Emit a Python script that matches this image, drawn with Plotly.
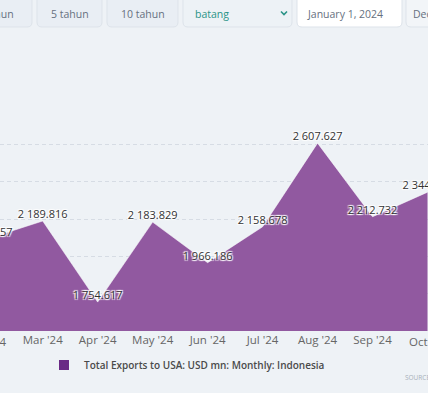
import plotly.graph_objects as go

# ---- data ----
months = ["Feb '24", "Mar '24", "Apr '24", "May '24", "Jun '24",
          "Jul '24", "Aug '24", "Sep '24", "Oct '24"]
values = [2094.557, 2189.816, 1754.617, 2183.829, 1966.186,
          2158.678, 2607.627, 2212.732, 2344.318]
series_name = "Total Exports to USA: USD mn: Monthly: Indonesia"
y_ticks = [1600, 1800, 2000, 2200, 2400, 2600, 2800]

# ---- layout geometry ----
W, H = 428, 393
ML, MR, MT, MB = 0, 0, 107, 62
PW, PH = W - ML - MR, H - MT - MB
BG = "#eef2f6"
FILL = "#9159a0"
SERIES = "#6a2a85"


def px(x):
    return (x - ML) / PW


def py(y):
    return (H - MB - y) / PH


x_idx = list(range(len(months)))
x_range = [0.223, 8.009]
labels = [f"{v:,.3f}".replace(",", " ") for v in values]

fig = go.Figure()
fig.add_trace(go.Scatter(
    x=x_idx, y=values, mode="lines+text", fill="tozeroy",
    fillcolor=FILL, line=dict(color="rgba(255,255,255,0.55)", width=1),
    text=labels, textposition="top center",
    textfont=dict(family="Open Sans", size=11, color="#333333",
                  shadow="1px 1px 1px #fff, -1px -1px 1px #fff, 1px -1px 1px #fff, -1px 1px 1px #fff"),
    cliponaxis=True, showlegend=False, hoverinfo="skip"))
fig.add_trace(go.Scatter(
    x=[None], y=[None], mode="markers", name=series_name,
    marker=dict(symbol="square", size=10, color=SERIES)))


def rrect(x0, y0, x1, y1, r):
    X0, X1 = px(x0), px(x1)
    Y0, Y1 = py(y0), py(y1)
    rx, ry = r / PW, r / PH
    return (f"M{X0+rx},{Y0} L{X1-rx},{Y0} Q{X1},{Y0} {X1},{Y0-ry} "
            f"L{X1},{Y1+ry} Q{X1},{Y1} {X1-rx},{Y1} L{X0+rx},{Y1} "
            f"Q{X0},{Y1} {X0},{Y1+ry} L{X0},{Y0-ry} Q{X0},{Y0} {X0+rx},{Y0} Z")


shapes = []
annotations = []
ui_font = dict(family="Open Sans", size=10.5, color="#667080")
boxes = [(-20, 32, "#e9eef4"), (37, 102, "#e9eef4"), (107, 178, "#e9eef4"),
         (183, 292, "#edf2f6"), (297, 402, "#ffffff"), (406, 470, "#f2f5f8")]
for x0, x1, c in boxes:
    shapes.append(dict(type="path", xref="paper", yref="paper",
                       path=rrect(x0, -10, x1, 27, 5), fillcolor=c,
                       line=dict(color="#dde3ea", width=1), layer="below"))

annotations.append(dict(xref="paper", yref="paper", x=px(16), y=py(14), text="1 tahun",
                        xanchor="right", yanchor="middle", showarrow=False, font=ui_font))
annotations.append(dict(xref="paper", yref="paper", x=px(69.5), y=py(14), text="5 tahun",
                        xanchor="center", yanchor="middle", showarrow=False, font=ui_font))
annotations.append(dict(xref="paper", yref="paper", x=px(142.5), y=py(14), text="10 tahun",
                        xanchor="center", yanchor="middle", showarrow=False, font=ui_font))
annotations.append(dict(xref="paper", yref="paper", x=px(193), y=py(13.5), text="batang",
                        xanchor="left", yanchor="middle", showarrow=False,
                        font=dict(family="Open Sans", size=10.5, color="#2a9487")))
shapes.append(dict(type="path", xref="paper", yref="paper",
                   path=f"M{px(281)},{py(11.5)} L{px(284)},{py(14.5)} L{px(287)},{py(11.5)}",
                   line=dict(color="#2a9487", width=1.6)))
annotations.append(dict(xref="paper", yref="paper", x=px(305), y=py(13.5), text="January 1, 2024",
                        xanchor="left", yanchor="middle", showarrow=False, font=ui_font))
annotations.append(dict(xref="paper", yref="paper", x=px(411), y=py(13.5), text="December 31, 2024",
                        xanchor="left", yanchor="middle", showarrow=False, font=ui_font))

# month labels at the cut edges (partially visible in the crop)
tick_font = dict(family="Open Sans", size=11.5, color="#666666")
for i in (x_idx[0], x_idx[-1]):
    annotations.append(dict(xref="paper", yref="paper",
                            x=(i - x_range[0]) / (x_range[1] - x_range[0]), y=py(341),
                            text=months[i], xanchor="center", yanchor="middle",
                            showarrow=False, font=tick_font))
annotations.append(dict(xref="paper", yref="paper", x=px(403), y=py(377), text="SOURCE",
                        xanchor="left", yanchor="middle", showarrow=False,
                        font=dict(family="Open Sans", size=6.5, color="#a8b0ba")))

fig.update_layout(
    width=W, height=H, autosize=False,
    margin=dict(l=ML, r=MR, t=MT, b=MB, pad=0),
    paper_bgcolor=BG, plot_bgcolor=BG,
    showlegend=True,
    legend=dict(orientation="h", x=px(44), y=py(365), xanchor="left", yanchor="middle",
                bgcolor="rgba(0,0,0,0)",
                font=dict(family="Open Sans", size=10, color="#4a4a4a", weight=600)),
    xaxis=dict(range=x_range, tickmode="array", tickvals=x_idx[1:-1], ticktext=months[1:-1],
               showgrid=False, zeroline=False, showline=False, ticks="",
               tickfont=tick_font, fixedrange=True),
    yaxis=dict(range=[y_ticks[0] - 0.5, y_ticks[-1] + 1.5], tickmode="array", tickvals=y_ticks,
               showticklabels=False, zeroline=False, showline=False,
               gridcolor="#d6dce4", griddash="4px,3px", gridwidth=1, fixedrange=True),
    shapes=shapes, annotations=annotations,
)

fig.write_html("out.html", config={"displayModeBar": False},
               post_script="document.body.style.margin='0';document.body.style.overflow='hidden';"
                           "document.body.style.background='" + BG + "';")
